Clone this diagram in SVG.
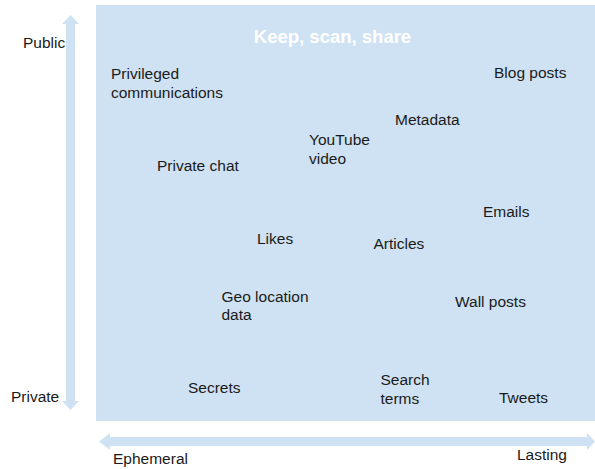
<svg xmlns="http://www.w3.org/2000/svg" width="595" height="469" viewBox="0 0 595 469">
  <style>
    .lbl { font-family: "Liberation Sans", Arial, sans-serif; font-size: 15.5px; fill: #1a1a1a; }
    .title { font-family: "Liberation Sans", Arial, sans-serif; font-size: 18.5px; font-weight: bold; fill: #ffffff; }
    .axis { fill: #cfe2f3; }
  </style>
  <rect width="595" height="469" fill="#ffffff"/>

  <!-- quadrant area -->
  <g id="area">
    <rect x="96" y="5" width="499" height="416" fill="#cfe2f3"/>
    <text class="title" x="332.5" y="43" text-anchor="middle">Keep, scan, share</text>
  </g>

  <!-- axes (double-headed block arrows) -->
  <g id="connectors">
    <polygon class="axis" points="70.5,15 79,24 75,24 75,401 79,401 70.5,410 62,401 66,401 66,24 62,24"/>
    <polygon class="axis" points="99,441.5 110,433 110,437 587,437 587,433 595,441.5 587,450 587,446 110,446 110,450"/>
  </g>

  <!-- axis labels -->
  <g id="axis-labels">
    <text class="lbl" x="23" y="48">Public</text>
    <text class="lbl" x="11" y="402">Private</text>
    <text class="lbl" x="113" y="464">Ephemeral</text>
    <text class="lbl" x="517" y="460">Lasting</text>
  </g>

  <g id="privileged"><text class="lbl" x="111" y="79">Privileged<tspan x="111" dy="18.5">communications</tspan></text></g>
  <g id="blog-posts"><text class="lbl" x="494" y="78">Blog posts</text></g>
  <g id="metadata"><text class="lbl" x="395" y="125">Metadata</text></g>
  <g id="youtube"><text class="lbl" x="309" y="145">YouTube<tspan x="309" dy="18.5">video</tspan></text></g>
  <g id="private-chat"><text class="lbl" x="157" y="170.5">Private chat</text></g>
  <g id="emails"><text class="lbl" x="483" y="217">Emails</text></g>
  <g id="likes"><text class="lbl" x="257" y="244">Likes</text></g>
  <g id="articles"><text class="lbl" x="373.5" y="248.5">Articles</text></g>
  <g id="geo"><text class="lbl" x="221.5" y="301.5">Geo location<tspan x="221.5" dy="18.5">data</tspan></text></g>
  <g id="wall-posts"><text class="lbl" x="455" y="307">Wall posts</text></g>
  <g id="secrets"><text class="lbl" x="188" y="393">Secrets</text></g>
  <g id="search"><text class="lbl" x="380.5" y="385">Search<tspan x="380.5" dy="18.5">terms</tspan></text></g>
  <g id="tweets"><text class="lbl" x="499" y="403">Tweets</text></g>
</svg>
